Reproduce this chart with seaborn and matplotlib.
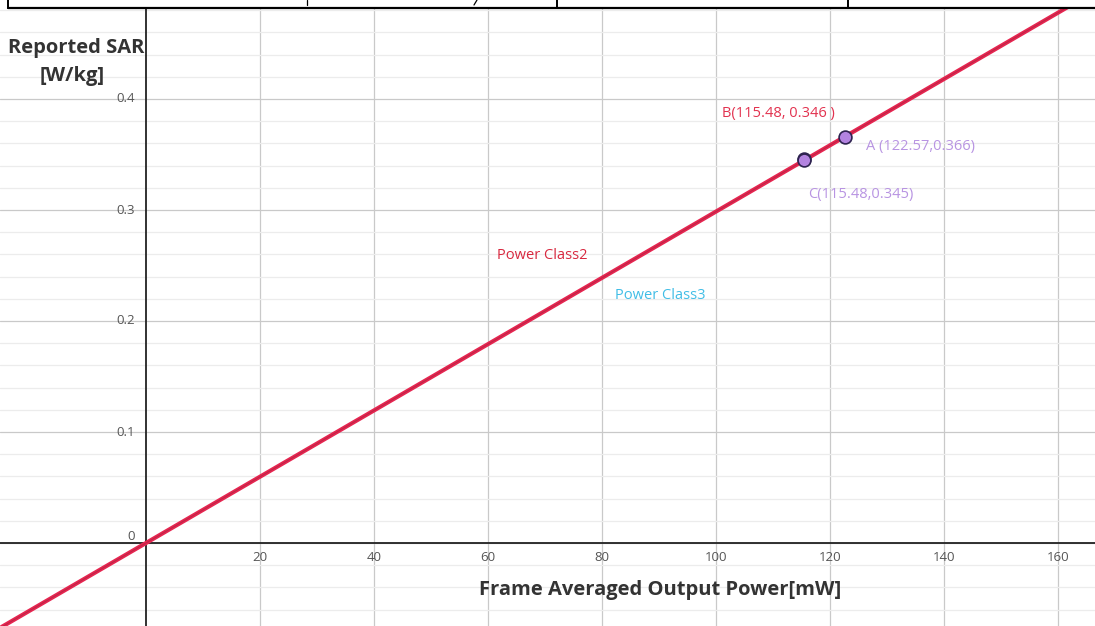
'''Reported SAR vs frame averaged output power'''

import numpy as np
import pandas as pd
import seaborn as sns
import matplotlib.pyplot as plt
from matplotlib.lines import Line2D
from matplotlib.ticker import MultipleLocator

# line (through the origin)
line_power = [-30, 0, 170]
line_sar = [-0.0896, 0.0, 0.5076]

# marked points
point_names = ['A', 'B', 'C']
point_power = [122.57, 115.48, 115.48]
point_sar = [0.366, 0.346, 0.345]
point_labels = ['A (122.57,0.366)', 'B(115.48, 0.346 )', 'C(115.48,0.345)']

x_ticks = [20, 40, 60, 80, 100, 120, 140, 160]
y_ticks = [0, 0.1, 0.2, 0.3, 0.4]

sns.set_theme(style='white')
plt.rcParams['font.family'] = ['Open Sans', 'DejaVu Sans']

fig = plt.figure(figsize=(10.95, 6.26), dpi=100)
ax = fig.add_axes([0, 0, 1, 1])

# limits so that origin lands at pixel (146, 543)
ax.set_xlim(-146 / 5.7, (1095 - 146) / 5.7)
ax.set_ylim(-(626 - 543) / 1110, 543 / 1110)

# grid
ax.yaxis.set_minor_locator(MultipleLocator(0.02))
ax.set_xticks(x_ticks)
ax.set_yticks(y_ticks)
ax.grid(which='major', color='#c9c9c9', lw=0.9)
ax.grid(which='minor', axis='y', color='#ececec', lw=0.9)
ax.tick_params(which='both', length=0)

for s in ['top', 'right']:
    ax.spines[s].set_visible(False)
ax.spines['left'].set_position('zero')
ax.spines['bottom'].set_position('zero')
for s in ['left', 'bottom']:
    ax.spines[s].set_color('#222222')
    ax.spines[s].set_linewidth(1.3)
    ax.spines[s].set_zorder(2)

ax.set_xticklabels([str(t) for t in x_ticks], fontsize=9.5, color='#555555')
ax.set_yticklabels(['0', '0.1', '0.2', '0.3', '0.4'], fontsize=9.5, color='#555555')
ax.tick_params(axis='x', pad=6)
ax.tick_params(axis='y', pad=8)
for lbl in ax.get_yticklabels():
    lbl.set_verticalalignment('bottom' if lbl.get_text() == '0' else 'center')

# power class line
df_line = pd.DataFrame({'power': line_power, 'sar': line_sar})
sns.lineplot(data=df_line, x='power', y='sar', ax=ax, color='#e62550', lw=3, zorder=4)
sns.lineplot(data=df_line, x='power', y='sar', ax=ax, color='#6a2535', lw=0.7, alpha=0.35, zorder=5)

# points
df_pts = pd.DataFrame({'name': point_names, 'power': point_power, 'sar': point_sar})
sns.scatterplot(data=df_pts, x='power', y='sar', ax=ax, s=85, color='#b383e0',
                edgecolor='#2e2350', linewidth=1.2, zorder=6)
ax.set_xlabel('')
ax.set_ylabel('')

lbl_style = {
    'A': dict(dx=3.7, dy=-0.009, color='#b894e2'),
    'B': dict(dx=-14.4, dy=0.041, color='#e2324f'),
    'C': dict(dx=0.6, dy=-0.031, color='#b894e2'),
}
for name, px, py, txt in zip(point_names, point_power, point_sar, point_labels):
    st = lbl_style[name]
    ax.text(px + st['dx'], py + st['dy'], txt, color=st['color'], fontsize=10.5,
            va='center', ha='left', zorder=7)

ax.text(61.6, 0.2586, 'Power Class2', color='#d8283f', fontsize=10.5, va='center', zorder=7)
ax.text(82.3, 0.2234, 'Power Class3', color='#40bde6', fontsize=10.5, va='center', zorder=7)

# axis titles
fig.text(8 / 1095, 1 - 48 / 626, 'Reported SAR', fontsize=14.5, fontweight='bold',
         color='#333333', va='center', ha='left')
fig.text(72 / 1095, 1 - 76 / 626, '[W/kg]', fontsize=14.5, fontweight='bold',
         color='#333333', va='center', ha='center')
fig.text(660 / 1095, 1 - 590 / 626, 'Frame Averaged Output Power[mW]', fontsize=14.5,
         fontweight='bold', color='#333333', va='center', ha='center')

# table border strip at the top of the page
top = 1 - 7.5 / 626
fig.patches.append(plt.Rectangle((0, top), 1, 1 - top, transform=fig.transFigure,
                                 facecolor='white', edgecolor='none', zorder=10))
fig.lines.append(Line2D([8 / 1095, 1], [top, top], transform=fig.transFigure,
                        color='black', lw=1.6, zorder=11))
for xp in [8, 557, 848]:
    fig.lines.append(Line2D([xp / 1095, xp / 1095], [top, 1], transform=fig.transFigure,
                            color='black', lw=1.4, zorder=11))
fig.lines.append(Line2D([307 / 1095, 307 / 1095], [1 - 5 / 626, 1], transform=fig.transFigure,
                        color='black', lw=0.9, zorder=11))
fig.lines.append(Line2D([474 / 1095, 477 / 1095], [1 - 5 / 626, 1], transform=fig.transFigure,
                        color='black', lw=0.9, zorder=11))

fig.savefig('out.png', dpi=100)
